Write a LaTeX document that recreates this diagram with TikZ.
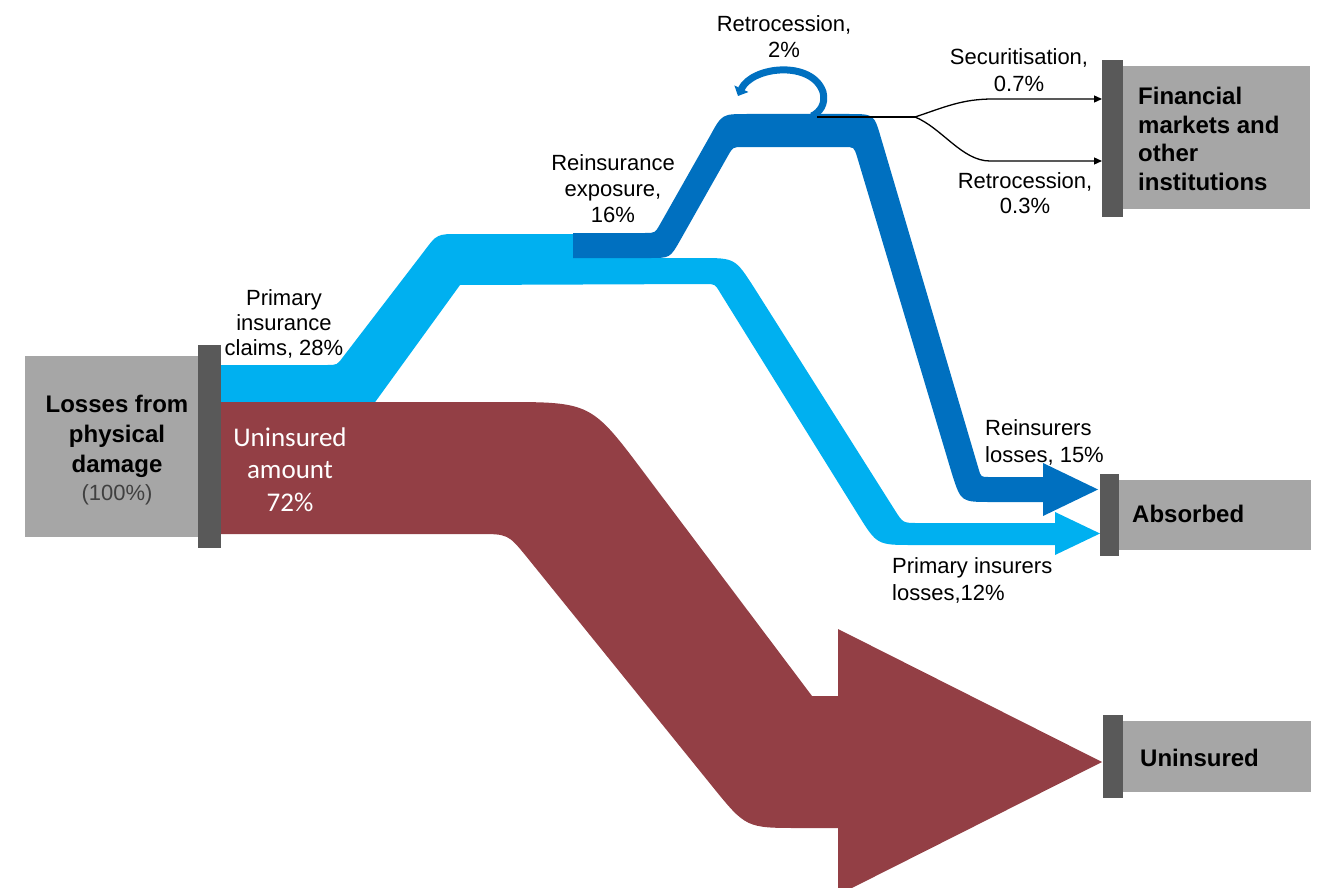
\documentclass[tikz,border=0pt]{standalone}
\usepackage{fontspec}
\setmainfont{Liberation Sans}
\newfontfamily\calib{Carlito}
\usetikzlibrary{arrows.meta}
\definecolor{boxgray}{RGB}{166,166,166}
\definecolor{bargray}{RGB}{89,89,89}
\definecolor{lblue}{RGB}{0,176,240}
\definecolor{dblue}{RGB}{0,112,192}
\definecolor{maroonband}{RGB}{147,63,69}
\definecolor{txtgray}{RGB}{64,64,64}
\newcommand\mylines[2]{\begin{tabular}[t]{@{}#1@{}}#2\end{tabular}}
\begin{document}
\begin{tikzpicture}[x=1pt,y=-1pt,
  graybox/.style 2 args={fill=boxgray, draw=none, inner sep=0pt, outer sep=0pt, minimum width=#1, minimum height=#2},
  darkbar/.style 2 args={fill=bargray, draw=none, inner sep=0pt, outer sep=0pt, minimum width=#1, minimum height=#2},
  lab/.style={font=\fontsize{22}{#1}\selectfont, inner sep=0pt, text=black},
  lab/.default=25,
  big/.style={font=\fontsize{24}{#1}\selectfont\bfseries, inner sep=0pt, text=black},
  big/.default=28.5,
  thinarrow/.style={draw=black, line width=1.3pt, -{Triangle[length=8pt,width=7pt]}}
]
\useasboundingbox (0,0) rectangle (1322,888);

% ---------- bands ----------
% light blue: primary insurance claims
\fill[lblue] (221,365) -- (327,365) .. controls (337,365) .. (343,357) -- (424,251.4) .. controls (437,234) .. (459,234) -- (575,234) -- (575,258) -- (700,258) .. controls (735,258) .. (754,287.5) -- (895,510.4) .. controls (903,523) .. (918,523) -- (1055,523) -- (1055,512) -- (1100,533.5) -- (1055,555) -- (1055,545) -- (913,545) .. controls (877,545) .. (858,514.5) -- (720,292.5) .. controls (715,284) .. (705,284) -- (460,285) -- (373,405) -- (221,405) -- cycle;

% dark blue: reinsurance exposure
\fill[dblue] (573,258) -- (573,233) -- (645,233) .. controls (655,233) .. (660,224.3) -- (710,136) .. controls (722,114) .. (747,114) -- (849,114) .. controls (874,114) .. (881,138) -- (978.7,469.3) .. controls (981,477) .. (989,477) -- (1043,477) -- (1043,463) -- (1098,489.5) -- (1043,516) -- (1043,502) -- (991,502) .. controls (961,502) .. (952,474) -- (857,156.6) .. controls (854,147) .. (844,147) -- (743,147) .. controls (733,147) .. (728,155.7) -- (680,240.6) .. controls (670,258) .. (650,258) -- cycle;

% maroon: uninsured amount
\fill[maroonband] (221,402) -- (501,402) .. controls (591,402) .. (645,474) -- (812,696) -- (838,696) -- (838,629) -- (1102,762) -- (838,895) -- (838,828) -- (800,828) .. controls (746,828) .. (712,786) -- (527,557.3) .. controls (508,534) .. (478,534) -- (221,534) -- cycle;

% retrocession hook
\coordinate (loopstart) at (738,96);
\coordinate (hookend) at (812,116);
\draw[dblue, line width=7pt, {Triangle[length=8pt,width=15pt]}-] (loopstart) .. controls (752,66) and (812,60) .. (823,92) .. controls (826,104) and (820,112) .. (hookend);

% ---------- boxes ----------
\node[graybox={173pt}{181pt}] (lossbox) at (111.5,446.5) {};
\node[darkbar={23pt}{203pt}] (lossbar) at (209.5,446.5) {};
\node[graybox={187pt}{143pt}] (finbox) at (1216.5,137.5) {};
\node[darkbar={21pt}{157pt}] (finbar) at (1112.5,138.5) {};
\node[graybox={192pt}{70pt}] (absbox) at (1215,515) {};
\node[darkbar={19pt}{82pt}] (absbar) at (1109.5,515) {};
\node[graybox={188pt}{71pt}] (uninbox) at (1217,756.5) {};
\node[darkbar={20pt}{83pt}] (uninbar) at (1113,756.5) {};

% ---------- thin connectors ----------
\coordinate (hookline) at (817,117);
\coordinate (split) at (915,117);
\draw[black, line width=1.3pt] (hookline) -- (split);
\draw[thinarrow] (split) .. controls (945,107) and (962,99) .. (993,99) -- ([yshift=39.5pt]finbar.west);
\draw[thinarrow] (split) .. controls (942,128) and (962,161) .. (990,161) -- ([yshift=-22.5pt]finbar.west);

% ---------- box texts ----------
\node[big=30, anchor=base] (losstxt) at (117,412) {\mylines{c}{Losses from\\physical\\damage}};
\node[lab, text=txtgray, anchor=base] (losspct) at (117,500.5) {(100\%)};
\node[big, anchor=base west] (fintxt) at (1138,105) {\mylines{l}{Financial\\markets and\\other\\institutions}};
\node[big, anchor=base west] (abstxt) at (1132,522) {Absorbed};
\node[big, anchor=base west] (unintxt) at (1140,766) {Uninsured};

% ---------- flow labels ----------
\node[lab, anchor=base] (lprim) at (284,305) {\mylines{c}{Primary\\insurance\\claims, 28\%}};
\node[lab=26, anchor=base] (lreins) at (613,170) {\mylines{c}{Reinsurance\\exposure,\\16\%}};
\node[lab=26, anchor=base] (lretro) at (784,32) {\mylines{c}{Retrocession,\\2\%}};
\node[lab=27, anchor=base] (lsecur) at (1019,65) {\mylines{c}{Securitisation,\\0.7\%}};
\node[lab=25, anchor=base] (lretro2) at (1025,188) {\mylines{c}{Retrocession,\\0.3\%}};
\node[lab=27, anchor=base west] (lreinloss) at (985,435) {\mylines{l}{Reinsurers\\losses, 15\%}};
\node[lab=27, anchor=base west] (lprimloss) at (892,573) {\mylines{l}{Primary insurers\\losses,12\%}};
\node[font=\calib\fontsize{27}{32.5}\selectfont, text=white, inner sep=0pt, anchor=base] (lunins) at (290,446) {\mylines{c}{Uninsured\\amount\\72\%}};
\end{tikzpicture}
\end{document}
